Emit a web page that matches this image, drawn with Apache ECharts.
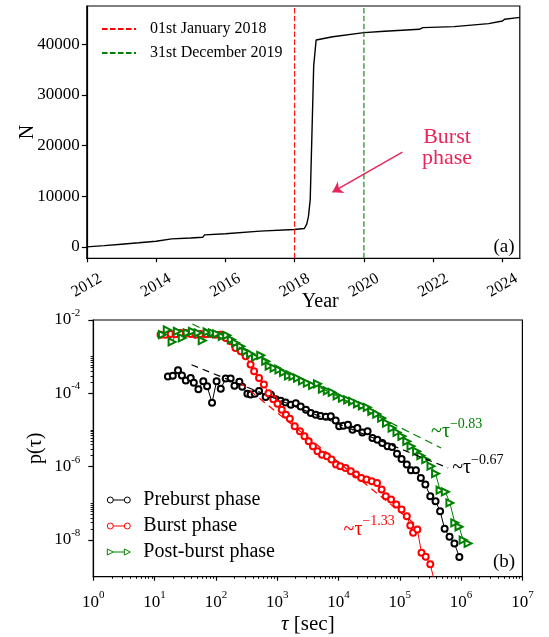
<!DOCTYPE html>
<html>
<head>
<meta charset="utf-8">
<script src="https://cdn.jsdelivr.net/npm/echarts@6.0.0/dist/echarts.min.js"></script>
<style>
html, body { margin: 0; padding: 0; background: #fff; }
#chart { width: 549px; height: 637px; }
</style>
</head>
<body>
<div id="chart"></div>
<script>
// panel (a): cumulative number N by year
var years = [2012.0, 2012.5, 2013.0, 2013.5, 2014.0, 2014.45, 2015.0, 2015.35, 2015.4, 2016.0, 2017.0, 2017.98, 2018.28, 2018.35, 2018.4, 2018.45, 2018.5, 2018.55, 2018.62, 2019.1, 2020.0, 2020.6, 2021.6, 2021.7, 2022.6, 2023.6, 2024.0, 2024.06, 2024.45, 2024.5]
var counts = [0, 230, 520, 800, 1100, 1580, 1750, 1900, 2370, 2570, 3100, 3430, 3620, 4500, 6060, 9360, 22500, 35700, 40860, 41500, 42300, 42570, 42970, 43300, 43500, 44080, 44610, 44940, 45270, 45300]
var yearTicks = [2012, 2014, 2016, 2018, 2020, 2022, 2024]
var nTicks = [0, 10000, 20000, 30000, 40000]
var markDates = [2018, 2020]

// panel (b): inter-event time distributions
var preTau = [16.5, 19.8, 24.1, 27.9, 32.3, 38.8, 43.6, 51.8, 62.3, 71.9, 86.5, 102.6, 120, 144.5, 174, 201, 241.5, 268.5, 326.6, 368, 431, 505, 648, 789, 949, 1140, 1371, 1671, 2009, 2415, 2943, 3539, 4253, 5113, 6223, 7482, 8995, 10260, 12020, 14260, 16930, 20360, 24480, 29800, 35820, 43070, 51780, 63100, 74850, 90000, 106900, 130000, 152400, 183200, 220300, 261300, 314100, 382800, 454300, 538800, 647700, 778700, 936000]
var preP = [2.88e-4, 3.0e-4, 4.28e-4, 3.06e-4, 2.24e-4, 2.64e-4, 1.93e-4, 1.30e-4, 2.15e-4, 1.57e-4, 5.53e-5, 2.15e-4, 1.33e-4, 2.54e-4, 2.54e-4, 1.60e-4, 2.06e-4, 1.51e-4, 9.7e-5, 9.3e-5, 9.7e-5, 1.15e-4, 7.9e-5, 9.1e-5, 6.95e-5, 6.27e-5, 5.65e-5, 4.88e-5, 5.41e-5, 4.39e-5, 3.57e-5, 2.89e-5, 2.61e-5, 2.4e-5, 2.3e-5, 2.36e-5, 1.83e-5, 1.26e-5, 1.31e-5, 1.39e-5, 1.02e-5, 1.13e-5, 8.6e-6, 9.2e-6, 6.05e-6, 5.44e-6, 4.42e-6, 3.59e-6, 3.44e-6, 2.26e-6, 1.62e-6, 1.14e-6, 7.98e-7, 7.98e-7, 4.93e-7, 3.25e-7, 1.57e-7, 1.15e-7, 6.12e-8, 2.02e-8, 1.23e-8, 8.07e-9, 3.44e-9]
var burstTau = [12.5, 15.0, 18.3, 22.0, 26.5, 32.3, 38.8, 46.6, 56.1, 68.3, 82.1, 98.7, 118.6, 144.5, 174, 209, 254.5, 306, 368, 420, 505, 607, 720, 865, 1013, 1186, 1390, 1607, 1931, 2351, 2790, 3266, 3829, 4540, 5385, 6476, 7690, 9120, 10690, 13010, 15850, 19310, 23500, 28640, 34900, 42540, 50470, 59080, 71950, 87700, 106900, 130000, 148300, 164900, 193200, 226000, 264800, 314100, 363100]
var burstP = [3.99e-3, 3.95e-3, 4.16e-3, 4.1e-3, 4.43e-3, 4.4e-3, 4.16e-3, 3.99e-3, 4.16e-3, 4.1e-3, 4.16e-3, 3.99e-3, 3.95e-3, 3.24e-3, 2.63e-3, 1.73e-3, 1.41e-3, 1.03e-3, 6.1e-4, 4.02e-4, 2.64e-4, 1.74e-4, 1.01e-4, 6.95e-5, 5.19e-5, 3.57e-5, 2.61e-5, 2.03e-5, 1.26e-5, 9.2e-6, 6.71e-6, 4.91e-6, 3.59e-6, 2.62e-6, 2.13e-6, 1.92e-6, 1.56e-6, 1.14e-6, 1.03e-6, 9.24e-7, 7.5e-7, 6.09e-7, 4.93e-7, 4.44e-7, 4.0e-7, 3.61e-7, 2.38e-7, 1.57e-7, 1.27e-7, 9.29e-8, 6.79e-8, 4.48e-8, 2.49e-8, 1.58e-8, 1.94e-8, 4.5e-9, 3.5e-9, 2.17e-9, 8.0e-10]
var postTau = [13.4, 16.1, 19.3, 23.5, 28.3, 34.0, 41.4, 51.2, 59.8, 71.9, 87.7, 102.6, 126.7, 150.4, 178.3, 209, 254.5, 306, 368, 442.6, 538.7, 648, 739, 889, 1069, 1268, 1524, 1807, 2144, 2578, 3099, 3776, 4540, 5459, 6563, 7891, 9488, 11560, 14090, 16930, 20360, 24480, 29420, 34900, 41980, 50470, 60680, 74850, 90000, 108200, 130000, 152400, 187900, 220300, 264800, 322800, 382800, 454300, 553300, 656100, 788900, 924700, 1081000, 1300000]
var postP = [3.99e-3, 5.35e-3, 2.52e-3, 4.92e-3, 3.24e-3, 4.43e-3, 4.92e-3, 4.43e-3, 2.74e-3, 4.72e-3, 4.43e-3, 4.16e-3, 3.6e-3, 3.83e-3, 2.92e-3, 2.37e-3, 1.92e-3, 1.41e-3, 1.19e-3, 9.66e-4, 1.09e-3, 7.51e-4, 5.5e-4, 4.85e-4, 4.37e-4, 3.7e-4, 3.0e-4, 2.88e-4, 2.59e-4, 2.19e-4, 1.89e-4, 1.64e-4, 1.82e-4, 1.30e-4, 1.17e-4, 1.06e-4, 8.58e-5, 7.4e-5, 6.67e-5, 6.0e-5, 5.19e-5, 4.58e-5, 4.13e-5, 3.21e-5, 2.72e-5, 2.11e-5, 1.55e-5, 1.13e-5, 8.62e-6, 6.71e-6, 4.91e-6, 3.59e-6, 2.62e-6, 2.0e-6, 1.56e-6, 1.03e-6, 6.48e-7, 2.28e-7, 2.06e-7, 1.03e-7, 2.95e-8, 2.30e-8, 9.95e-9, 8.07e-9]

// power-law guide lines (end points)
var preFitTau = [40, 615000]
var preFitP = [6.0e-4, 9.2e-7]
var burstFitTau = [254, 181000]
var burstFitP = [1.89e-4, 2.65e-8]
var postFitTau = [41.4, 472000]
var postFitP = [7.8e-3, 3.24e-6]

var tauTicks = [1, 10, 100, 1000, 10000, 100000, 1000000, 10000000]
var pTicks = [1e-8, 1e-6, 1e-4, 1e-2]

var serif = '"Liberation Serif", "Times New Roman", serif'
var burstColor = '#e8265a'

// minor log ticks
var tauMinor = []
for (var k = 0; k < 7; k++) {
    for (var m = 2; m < 10; m++) tauMinor.push(m * Math.pow(10, k))
}
var pMinor = [1e-7, 1e-5, 1e-3]
;[-8, -6, -4].forEach(function (e) {
    for (var m = 2; m < 10; m++) pMinor.push(m * Math.pow(10, e))
})

function pairs(xs, ys) {
    return xs.map(function (x, i) { return [x, ys[i]] })
}
function plain(v) {
    return String(v)
}
function powLabel(v) {
    var e = Math.round(Math.log10(v))
    return '{b|10}{s|' + e + '}'
}
function expLabel(txt) {
    return function () { return '{b|~τ}{s|' + txt + '}' }
}
var powRich = {
    b: { fontSize: 17, fontFamily: serif, color: '#000' },
    s: { fontSize: 11, fontFamily: serif, color: '#000', padding: [0, 0, 14, 0] }
}
function tauRich(color) {
    return {
        b: { fontSize: 20, fontFamily: serif, color: color },
        s: { fontSize: 14, fontFamily: serif, color: color, padding: [0, 0, 16, 0] }
    }
}

var ymin = -2265, ymax = 47565
var dashIcon = 'path://M0,0h5.5v2h-5.5zM8,0h5.5v2h-5.5zM16,0h5.5v2h-5.5zM24,0h5.5v2h-5.5zM32,0h2v2h-2z'
var circIcon = 'path://M0,3A3,3 0 1 1 6,3A3,3 0 1 1 0,3ZM6,3L17,3M17,3A3,3 0 1 1 23,3A3,3 0 1 1 17,3Z'
var triIcon = 'path://M0,0L6,3L0,6ZM6,3L17,3M17,0L23,3L17,6Z'

var axisBlack = { color: '#000', width: 1.2 }

var option = {
    animation: false,
    textStyle: { fontFamily: serif, color: '#000' },
    grid: [
        { left: 86.8, right: 29.2, top: 6, bottom: 378.7, show: true, borderColor: '#000', borderWidth: 1.2, outerBoundsMode: 'none' },
        { left: 93.3, right: 26.6, top: 320, bottom: 60.3, show: true, borderColor: '#000', borderWidth: 1.2, outerBoundsMode: 'none' }
    ],
    legend: [
        {
            orient: 'vertical', left: 102, top: 21, padding: 0, itemWidth: 34, itemHeight: 2, itemGap: 8,
            selectedMode: false,
            textStyle: { fontSize: 16, fontFamily: serif, color: '#000', lineHeight: 16, padding: [0, 0, 0, 9] },
            data: [
                { name: '01st January 2018', icon: dashIcon, itemStyle: { color: '#ff0000', borderWidth: 0 } },
                { name: '31st December 2019', icon: dashIcon, itemStyle: { color: '#008000', borderWidth: 0 } }
            ]
        },
        {
            orient: 'vertical', left: 106.8, top: 490, padding: 0, itemWidth: 23, itemHeight: 6, itemGap: 6,
            selectedMode: false,
            textStyle: { fontSize: 20, fontFamily: serif, color: '#000', lineHeight: 20, padding: [0, 0, 0, 8] },
            data: [
                { name: 'Preburst phase', icon: circIcon, itemStyle: { color: 'transparent', borderColor: '#000', borderWidth: 1 } },
                { name: 'Burst phase', icon: circIcon, itemStyle: { color: 'transparent', borderColor: '#ff0000', borderWidth: 1 } },
                { name: 'Post-burst phase', icon: triIcon, itemStyle: { color: 'transparent', borderColor: '#008000', borderWidth: 1 } }
            ]
        }
    ],
    xAxis: [
        {
            gridIndex: 0, type: 'value', min: 2012, max: 2024.5,
            name: 'Year', nameLocation: 'middle', nameGap: 33, nameMoveOverlap: false,
            nameTextStyle: { fontSize: 20, fontFamily: serif, color: '#000', padding: [0, 0, 0, 34] },
            axisLine: { show: true, onZero: false, lineStyle: axisBlack },
            axisTick: { show: true, length: 4, lineStyle: axisBlack, customValues: yearTicks },
            axisLabel: { customValues: yearTicks, formatter: plain, rotate: 30, align: 'center', verticalAlign: 'middle', margin: 27, fontSize: 16, color: '#000' },
            splitLine: { show: false }
        },
        {
            gridIndex: 1, type: 'log', logBase: 10, min: 1, max: 1e7, position: 'bottom',
            name: '{i|τ} [sec]', nameLocation: 'middle', nameGap: 37, nameMoveOverlap: false,
            nameTextStyle: { fontSize: 21, fontFamily: serif, color: '#000', rich: { i: { fontSize: 21, fontStyle: 'italic', fontFamily: serif } } },
            axisLine: { show: true, onZero: false, lineStyle: axisBlack },
            axisTick: { show: true, length: 4, lineStyle: axisBlack, customValues: tauTicks },
            axisLabel: { customValues: tauTicks, formatter: powLabel, rich: powRich, margin: 13 },
            splitLine: { show: false }
        },
        {
            gridIndex: 1, type: 'log', logBase: 10, min: 1, max: 1e7, position: 'bottom',
            axisLine: { show: false, onZero: false },
            axisTick: { show: true, length: 2.2, lineStyle: { color: '#000', width: 0.9 }, customValues: tauMinor },
            axisLabel: { show: false },
            splitLine: { show: false }
        }
    ],
    yAxis: [
        {
            gridIndex: 0, type: 'value', min: ymin, max: ymax,
            name: 'N', nameLocation: 'middle', nameGap: 49, nameMoveOverlap: false,
            nameTextStyle: { fontSize: 20, fontFamily: serif, color: '#000' },
            axisLine: { show: true, onZero: false, lineStyle: axisBlack },
            axisTick: { show: true, length: 5, lineStyle: axisBlack, customValues: nTicks },
            axisLabel: { customValues: nTicks, formatter: plain, fontSize: 17, color: '#000', margin: 7 },
            splitLine: { show: false }
        },
        {
            gridIndex: 1, type: 'log', logBase: 10, min: 1e-9, max: 1e-2, position: 'left',
            name: 'p(τ)', nameLocation: 'middle', nameGap: 48, nameMoveOverlap: false,
            nameTextStyle: { fontSize: 20, fontFamily: serif, color: '#000' },
            axisLine: { show: true, onZero: false, lineStyle: axisBlack },
            axisTick: { show: true, length: 5, lineStyle: axisBlack, customValues: pTicks },
            axisLabel: { customValues: pTicks, formatter: powLabel, rich: powRich, margin: 13 },
            splitLine: { show: false }
        },
        {
            gridIndex: 1, type: 'log', logBase: 10, min: 1e-9, max: 1e-2, position: 'left',
            axisLine: { show: false, onZero: false },
            axisTick: { show: true, length: 2.7, lineStyle: { color: '#000', width: 0.9 }, customValues: pMinor },
            axisLabel: { show: false },
            splitLine: { show: false }
        }
    ],
    graphic: [
        { type: 'text', x: 447, y: 127, style: { text: 'Burst\nphase', fontSize: 22, fontFamily: serif, fill: burstColor, align: 'center', verticalAlign: 'top', lineHeight: 21 } },
        { type: 'text', x: 504, y: 247, style: { text: '(a)', fontSize: 19, fontFamily: serif, fill: '#000', align: 'center', verticalAlign: 'middle' } },
        { type: 'text', x: 504, y: 562, style: { text: '(b)', fontSize: 19, fontFamily: serif, fill: '#000', align: 'center', verticalAlign: 'middle' } }
    ],
    series: [
        {
            name: 'N', type: 'line', xAxisIndex: 0, yAxisIndex: 0, showSymbol: false, symbol: 'none',
            data: pairs(years, counts),
            lineStyle: { color: '#000', width: 1.4 }, z: 3,
            markLine: {
                silent: true, symbol: ['none', 'arrow'], symbolSize: 10, label: { show: false },
                lineStyle: { color: burstColor, width: 1.6, type: 'solid' },
                data: [[{ coord: [2021.11, 18700] }, { coord: [2019.09, 10800] }]]
            }
        },
        {
            name: '01st January 2018', type: 'line', xAxisIndex: 0, yAxisIndex: 0, symbol: 'none',
            data: pairs([markDates[0], markDates[0]], [ymin, ymax]),
            lineStyle: { color: '#ff0000', width: 1.1, type: [5.5, 2.4] }, itemStyle: { color: '#ff0000' }
        },
        {
            name: '31st December 2019', type: 'line', xAxisIndex: 0, yAxisIndex: 0, symbol: 'none',
            data: pairs([markDates[1], markDates[1]], [ymin, ymax]),
            lineStyle: { color: '#008000', width: 1.1, type: [5.5, 2.4] }, itemStyle: { color: '#008000' }
        },
        {
            name: 'Preburst phase', type: 'line', xAxisIndex: 1, yAxisIndex: 1,
            data: pairs(preTau, preP), symbol: 'emptyCircle', symbolSize: 6,
            lineStyle: { color: '#000', width: 1 }, itemStyle: { color: '#000', borderWidth: 1 }, z: 4
        },
        {
            name: 'Burst phase', type: 'line', xAxisIndex: 1, yAxisIndex: 1,
            data: pairs(burstTau, burstP), symbol: 'emptyCircle', symbolSize: 6,
            lineStyle: { color: '#ff0000', width: 1 }, itemStyle: { color: '#ff0000', borderWidth: 1 }, z: 4
        },
        {
            name: 'Post-burst phase', type: 'line', xAxisIndex: 1, yAxisIndex: 1,
            data: pairs(postTau, postP), symbol: 'emptyTriangle', symbolSize: 7, symbolRotate: -90,
            lineStyle: { color: '#008000', width: 1 }, itemStyle: { color: '#008000', borderWidth: 1 }, z: 4
        },
        {
            name: 'fit pre', type: 'line', xAxisIndex: 1, yAxisIndex: 1, symbol: 'none',
            data: pairs(preFitTau, preFitP), z: 5,
            lineStyle: { color: '#000', width: 1.2, type: [7, 5] },
            endLabel: { show: true, formatter: expLabel('−0.67'), rich: tauRich('#000'), offset: [-4, 0] }
        },
        {
            name: 'fit burst', type: 'line', xAxisIndex: 1, yAxisIndex: 1, symbol: 'none',
            data: pairs(burstFitTau, burstFitP), z: 5,
            lineStyle: { color: '#ff0000', width: 1.2, type: [7, 5] },
            endLabel: { show: true, formatter: expLabel('−1.33'), rich: tauRich('#ff0000'), offset: [-80, 5] }
        },
        {
            name: 'fit post', type: 'line', xAxisIndex: 1, yAxisIndex: 1, symbol: 'none',
            data: pairs(postFitTau, postFitP), z: 5,
            lineStyle: { color: '#008000', width: 1.2, type: [8, 5] },
            endLabel: { show: true, formatter: expLabel('−0.83'), rich: tauRich('#008000'), offset: [-18, -16] }
        }
    ]
}

var chart = echarts.init(document.getElementById('chart'))
chart.setOption(option)
</script>
</body>
</html>
